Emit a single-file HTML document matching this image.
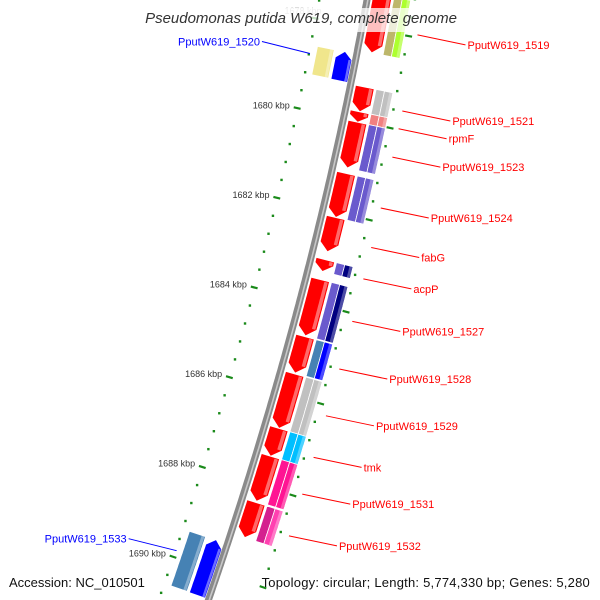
<!DOCTYPE html>
<html><head><meta charset="utf-8"><style>
html,body{margin:0;padding:0;background:#fff;overflow:hidden;width:600px;height:600px;}
svg{display:block;font-family:"Liberation Sans",sans-serif;overflow:hidden;}
</style></head><body>
<svg id="map" width="600" height="600" viewBox="0 0 600 600" xmlns="http://www.w3.org/2000/svg">
<rect width="600" height="600" fill="#fff"/>
<g id="ticks"></g>
<g id="backbone"></g>
<g id="genes"></g>
<g id="labels"></g>
<text x="303" y="14" font-size="9" fill="#bbb" text-anchor="middle">1678 kbp</text>
<rect x="140" y="8" width="330" height="24" fill="#fff" fill-opacity="0.75"/>
<text x="301" y="23" font-size="15" font-style="italic" fill="#333" text-anchor="middle">Pseudomonas putida W619, complete genome</text>
<text x="9" y="587" font-size="13" fill="#111">Accession: NC_010501</text>
<text x="590" y="587" font-size="13" fill="#111" text-anchor="end" letter-spacing="0.22">Topology: circular; Length: 5,774,330 bp; Genes: 5,280</text>
</svg>
<script>
// gene data (kbp)
const geneNames = ["PputW619_1518","PputW619_1519","PputW619_1521","rpmF","PputW619_1523","PputW619_1524","fabG","acpP","PputW619_1527","PputW619_1528","PputW619_1529","tmk","PputW619_1531","PputW619_1532"];
const geneStarts = [1676.0,1677.25,1679.29,1679.84,1680.07,1681.21,1682.19,1683.13,1683.57,1684.84,1685.67,1686.88,1687.50,1688.53];
const geneEnds   = [1677.23,1678.53,1679.84,1680.07,1681.09,1682.19,1682.95,1683.39,1684.82,1685.65,1686.88,1687.50,1688.50,1689.31];
const cogLeft  = ["#c0c0c0","#bdb76b","#c0c0c0","#f08080","#6a5acd","#6a5acd",null,"#6a5acd","#6a5acd","#4682b4","#c0c0c0","#00bfff","#ff1493","#d4208f"];
const cogRight = ["#c0c0c0","#adff2f","#c0c0c0","#f08080","#6a5acd","#6a5acd",null,"#000080","#000080","#0000ff","#c0c0c0","#00bfff","#ff1493","#ff40b0"];
const showLabel = [false,true,true,true,true,true,true,true,true,true,true,true,true,true];
// reverse strand genes
const revNames = ["PputW619_1520","PputW619_1533"];
const revStarts = [1678.62,1689.55];
const revEnds = [1679.26,1690.78];
const revBoxColors = ["#f0e68c","#4682b4"];
const revArrowColors = ["#0000ff","#0000ff"];
// ticks
const majorTicks = [1678,1680,1682,1684,1686,1688,1690];
const tickLabels = ["1678 kbp","1680 kbp","1682 kbp","1684 kbp","1686 kbp","1688 kbp","1690 kbp"];

const NS="http://www.w3.org/2000/svg";
function S(kbp){return 116+(kbp-1680)*44.8;}
function ST(kbp){return S(kbp)+2+(kbp-1680)*0.6;}
function P(s,d){const bp=-0.1822-0.0002738*s;const n=Math.hypot(1,bp);
  return [367-0.1822*s-0.0001369*s*s+d/n, s-d*bp/n];}
function pts(a){return a.map(p=>p[0].toFixed(1)+","+p[1].toFixed(1)).join(" ");}
function mk(tag,attrs,parent){const e=document.createElementNS(NS,tag);for(const k in attrs)e.setAttribute(k,attrs[k]);parent.appendChild(e);return e;}
function band(s1,s2,d1,d2){const a=[];for(let s=s1;s<=s2;s+=2)a.push(P(s,d1));a.push(P(s2,d1));const b=[];for(let s=s1;s<=s2;s+=2)b.push(P(s,d2));b.push(P(s2,d2));return a.concat(b.reverse());}

// backbone
const bb=document.getElementById("backbone");
let line1=[],line2=[];for(let s=-40;s<=620;s+=4){line1.push(P(s,0));line2.push(P(s,0.8));}
let e=mk("polyline",{points:pts(line1),fill:"none",stroke:"#8a8a8a","stroke-width":7},bb);


e=mk("polyline",{points:pts(line2),fill:"none",stroke:"#c8c8c8","stroke-width":1.6},bb);



// ticks
const tg=document.getElementById("ticks");
for(let k=1676.8;k<=1691.001;k+=0.4){
  const kk=Math.round(k*10)/10;const s=ST(kk);
  const isMajor=majorTicks.indexOf(kk)>=0;
  for(const side of [-1,1]){
    if(isMajor){const a=P(s,side*44),b=P(s,side*51);
      e=mk("line",{x1:a[0],y1:a[1],x2:b[0],y2:b[1],stroke:"#1a8a1a","stroke-width":2.2},tg);
      
      
    } else {const c=P(s,side*47);
      if(c[1]>598)continue;
      e=mk("rect",{x:c[0]-1.2,y:c[1]-1.2,width:2.4,height:2.4,fill:"#1a8a1a"},tg);
      
      }
  }
}
majorTicks.forEach((k,i)=>{if(k===1678)return;const c=P(ST(k),-55);
  e=mk("text",{x:c[0],y:c[1]+2,"font-size":9,fill:"#333","text-anchor":"end"},tg);e.textContent=tickLabels[i];
  
  });

// genes
const gg=document.getElementById("genes");
geneNames.forEach((nm,i)=>{
  const s1=S(geneStarts[i]),s2=S(geneEnds[i]);const len=s2-s1;const tip=Math.min(8,len*0.6);
  const d1=5,d2=24,dm=(d1+d2)/2;
  const a=[];for(let s=s1;s<=s2-tip;s+=2)a.push(P(s,d2));a.push(P(s2-tip,d2));a.push(P(s2,dm));
  const b=[];for(let s=s1;s<=s2-tip;s+=2)b.push(P(s,d1));b.push(P(s2-tip,d1));
  e=mk("polygon",{points:pts(a.concat(b.reverse())),fill:"#ff0000",stroke:"#fff","stroke-width":0.8},gg);
  
  
  e=mk("polygon",{points:pts(band(s1+1,s2-tip,19,22.5)),fill:"#ff6a6a"},gg);
  
  
  if(cogLeft[i]){
    e=mk("polygon",{points:pts(band(s1,s2,26,34.5)),fill:cogLeft[i],stroke:"#fff","stroke-width":0.8},gg);
    
    
    e=mk("polygon",{points:pts(band(s1,s2,34.5,43)),fill:cogRight[i],stroke:"#fff","stroke-width":0.8},gg);
    
    
    e=mk("polygon",{points:pts(band(s1+0.5,s2-0.5,39.5,42.5)),fill:"#fff","fill-opacity":0.3},gg);
    
    
  }
});
revNames.forEach((nm,i)=>{
  const s1=S(revStarts[i]),s2=S(revEnds[i]);const tip=7;
  e=mk("polygon",{points:pts(band(s1,s2,-40,-23)),fill:revBoxColors[i],stroke:"#fff","stroke-width":0.8},gg);
  
  
  e=mk("polygon",{points:pts(band(s1,s2,-27,-24)),fill:"#fff","fill-opacity":0.35},gg);
  
  
  const a=[P(s1,-12)];for(let s=s1+tip;s<=s2;s+=2)a.push(P(s,-4));a.push(P(s2,-4));
  const b=[];for(let s=s1+tip;s<=s2;s+=2)b.push(P(s,-20));b.push(P(s2,-20));
  e=mk("polygon",{points:pts(a.concat(b.reverse())),fill:revArrowColors[i]},gg);
  
  
  e=mk("polygon",{points:pts(band(s1+tip,s2,-7,-4.5)),fill:"#6b6bff"},gg);
  
  
});

// labels
const lg=document.getElementById("labels");
geneNames.forEach((nm,i)=>{
  if(!showLabel[i])return;
  const mid=(S(geneStarts[i])+S(geneEnds[i]))/2+3;const a=P(mid,56);
  const bx=a[0]+48,by=a[1]+10;
  e=mk("line",{x1:a[0],y1:a[1],x2:bx,y2:by,stroke:"#ff0000","stroke-width":1},lg);
  
  
  e=mk("text",{x:bx+2,y:by+4,"font-size":11,fill:"#ff0000"},lg);e.textContent=nm;
  
  
});
revNames.forEach((nm,i)=>{
  const mid=(S(revStarts[i])+S(revEnds[i]))/2-6;const a=P(mid,-46);
  const bx=a[0]-48,by=a[1]-12;
  e=mk("line",{x1:a[0],y1:a[1],x2:bx,y2:by,stroke:"#0000ff","stroke-width":1},lg);
  
  
  e=mk("text",{x:bx-2,y:by+4,"font-size":11,fill:"#0000ff","text-anchor":"end"},lg);e.textContent=nm;
  
  
});
</script>
</body></html>
